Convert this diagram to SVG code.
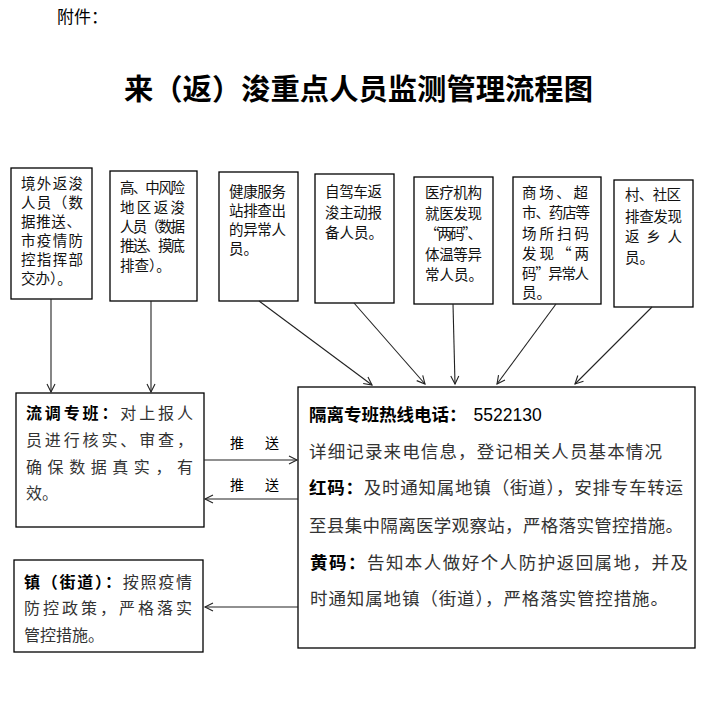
<svg xmlns="http://www.w3.org/2000/svg" width="706" height="720" viewBox="0 0 706 720">
<style>
.box{fill:#fff;stroke:#000;stroke-width:1.3}
.t{font-family:"Noto Sans CJK SC","Liberation Sans",sans-serif;font-size:14.5px;fill:#111}
.m{font-family:"Noto Sans CJK SC","Liberation Sans",sans-serif;font-size:16px;fill:#333}
.h{font-family:"Noto Sans CJK SC","Liberation Sans",sans-serif;font-size:17.5px;fill:#333}
.b{font-weight:bold;fill:#000}
.c{fill:none;stroke:#222;stroke-width:1.1}
</style>
<defs>
<marker id="ah" markerUnits="userSpaceOnUse" markerWidth="12" markerHeight="12" refX="9" refY="5" orient="auto">
<path d="M1,1 L9,5 L1,9" fill="none" stroke="#222" stroke-width="1.1"/>
</marker>
</defs>
<rect width="706" height="720" fill="#fff"/>
<g id="header">
<text x="57" y="23" font-family="Noto Sans CJK SC,sans-serif" font-size="17" fill="#000">附件：</text>
<text x="124" y="100" font-family="Noto Sans CJK SC,sans-serif" font-size="29" font-weight="bold" fill="#000" textLength="469" lengthAdjust="spacingAndGlyphs">来（返）浚重点人员监测管理流程图</text>
</g>
<g id="n1">
<rect class="box" x="11" y="168" width="81" height="131"/>
<text class="t" x="21" y="189" textLength="62">境外返浚</text>
<text class="t" x="21" y="208" textLength="62">人员（数</text>
<text class="t" x="21" y="227" textLength="60">据推送、</text>
<text class="t" x="21" y="246" textLength="62">市疫情防</text>
<text class="t" x="21" y="265" textLength="62">控指挥部</text>
<text class="t" x="21" y="284">交办）。</text>
</g>
<g id="n2">
<rect class="box" x="110" y="171" width="87" height="130"/>
<text class="t" x="120" y="193" textLength="65">高、中风险</text>
<text class="t" x="120" y="213" textLength="65">地区返浚</text>
<text class="t" x="120" y="232" textLength="65">人员（数据</text>
<text class="t" x="120" y="251" textLength="65">推送、摸底</text>
<text class="t" x="120" y="271">排查）。</text>
</g>
<g id="n3">
<rect class="box" x="219" y="172" width="79" height="129"/>
<text class="t" x="229" y="197" textLength="57">健康服务</text>
<text class="t" x="229" y="216" textLength="57">站排查出</text>
<text class="t" x="229" y="235" textLength="57">的异常人</text>
<text class="t" x="229" y="254">员。</text>
</g>
<g id="n4">
<rect class="box" x="315" y="174" width="79" height="129"/>
<text class="t" x="325" y="197" textLength="57">自驾车返</text>
<text class="t" x="325" y="218" textLength="57">浚主动报</text>
<text class="t" x="325" y="238">备人员。</text>
</g>
<g id="n5">
<rect class="box" x="414" y="177" width="79" height="127"/>
<text class="t" x="425" y="198" textLength="57">医疗机构</text>
<text class="t" x="425" y="219" textLength="57">就医发现</text>
<text class="t" x="425" y="239" textLength="57">“两码”、</text>
<text class="t" x="425" y="260" textLength="57">体温等异</text>
<text class="t" x="425" y="280">常人员。</text>
</g>
<g id="n6">
<rect class="box" x="513" y="177" width="88" height="127"/>
<text class="t" x="522" y="198" textLength="66">商场、超</text>
<text class="t" x="522" y="218" textLength="68">市、药店等</text>
<text class="t" x="522" y="239" textLength="67">场所扫码</text>
<text class="t" x="522" y="259" textLength="67">发现“两</text>
<text class="t" x="522" y="279" textLength="67">码”异常人</text>
<text class="t" x="522" y="298">员。</text>
</g>
<g id="n7">
<rect class="box" x="614" y="180" width="79" height="127"/>
<text class="t" x="625" y="200" textLength="56">村、社区</text>
<text class="t" x="625" y="222" textLength="57">排查发现</text>
<text class="t" x="625" y="242" textLength="57">返乡人</text>
<text class="t" x="625" y="263">员。</text>
</g>
<g id="n8">
<rect class="box" x="16" y="393" width="188" height="134"/>
<text class="m" x="26" y="419" textLength="167"><tspan class="b">流调专班：</tspan>对上报人</text>
<text class="m" x="26" y="446" textLength="167">员进行核实、审查，</text>
<text class="m" x="26" y="473" textLength="167">确保数据真实，有</text>
<text class="m" x="26" y="499">效。</text>
</g>
<g id="n9">
<rect class="box" x="298" y="387" width="397" height="261"/>
<text class="h" x="309" y="421"><tspan class="b">隔离专班热线电话：</tspan><tspan font-family="Liberation Sans,sans-serif" fill="#000" dx="7">5522130</tspan></text>
<text class="h" x="309" y="458" textLength="353">详细记录来电信息，登记相关人员基本情况</text>
<text class="h" x="309" y="494" textLength="374"><tspan class="b">红码：</tspan>及时通知属地镇（街道），安排专车转运</text>
<text class="h" x="309" y="532" textLength="374">至县集中隔离医学观察站，严格落实管控措施。</text>
<text class="h" x="310" y="569" textLength="378"><tspan class="b">黄码：</tspan>告知本人做好个人防护返回属地，并及</text>
<text class="h" x="310" y="605" textLength="358">时通知属地镇（街道），严格落实管控措施。</text>
</g>
<g id="n10">
<rect class="box" x="14" y="560" width="189" height="92"/>
<text class="m" x="24" y="588" textLength="168"><tspan class="b">镇（街道）：</tspan>按照疫情</text>
<text class="m" x="24" y="614" textLength="168">防控政策，严格落实</text>
<text class="m" x="24" y="641">管控措施。</text>
</g>
<g id="connectors">
<line class="c" x1="51" y1="299" x2="51" y2="392" marker-end="url(#ah)"/>
<line class="c" x1="151" y1="301" x2="151" y2="392" marker-end="url(#ah)"/>
<line class="c" x1="259" y1="301" x2="372" y2="385" marker-end="url(#ah)"/>
<line class="c" x1="354" y1="303" x2="425" y2="384" marker-end="url(#ah)"/>
<line class="c" x1="453" y1="304" x2="455" y2="384" marker-end="url(#ah)"/>
<line class="c" x1="556" y1="304" x2="497" y2="384" marker-end="url(#ah)"/>
<line class="c" x1="652" y1="307" x2="575" y2="384" marker-end="url(#ah)"/>
<line class="c" x1="204" y1="460" x2="297" y2="460" marker-end="url(#ah)"/>
<line class="c" x1="298" y1="499" x2="205" y2="499" marker-end="url(#ah)"/>
<line class="c" x1="298" y1="607" x2="205" y2="607" marker-end="url(#ah)"/>
<text x="230" y="448" font-family="Noto Sans CJK SC,sans-serif" font-size="14" fill="#000">推</text>
<text x="265" y="448" font-family="Noto Sans CJK SC,sans-serif" font-size="14" fill="#000">送</text>
<text x="230" y="490" font-family="Noto Sans CJK SC,sans-serif" font-size="14" fill="#000">推</text>
<text x="265" y="490" font-family="Noto Sans CJK SC,sans-serif" font-size="14" fill="#000">送</text>
</g>
</svg>
